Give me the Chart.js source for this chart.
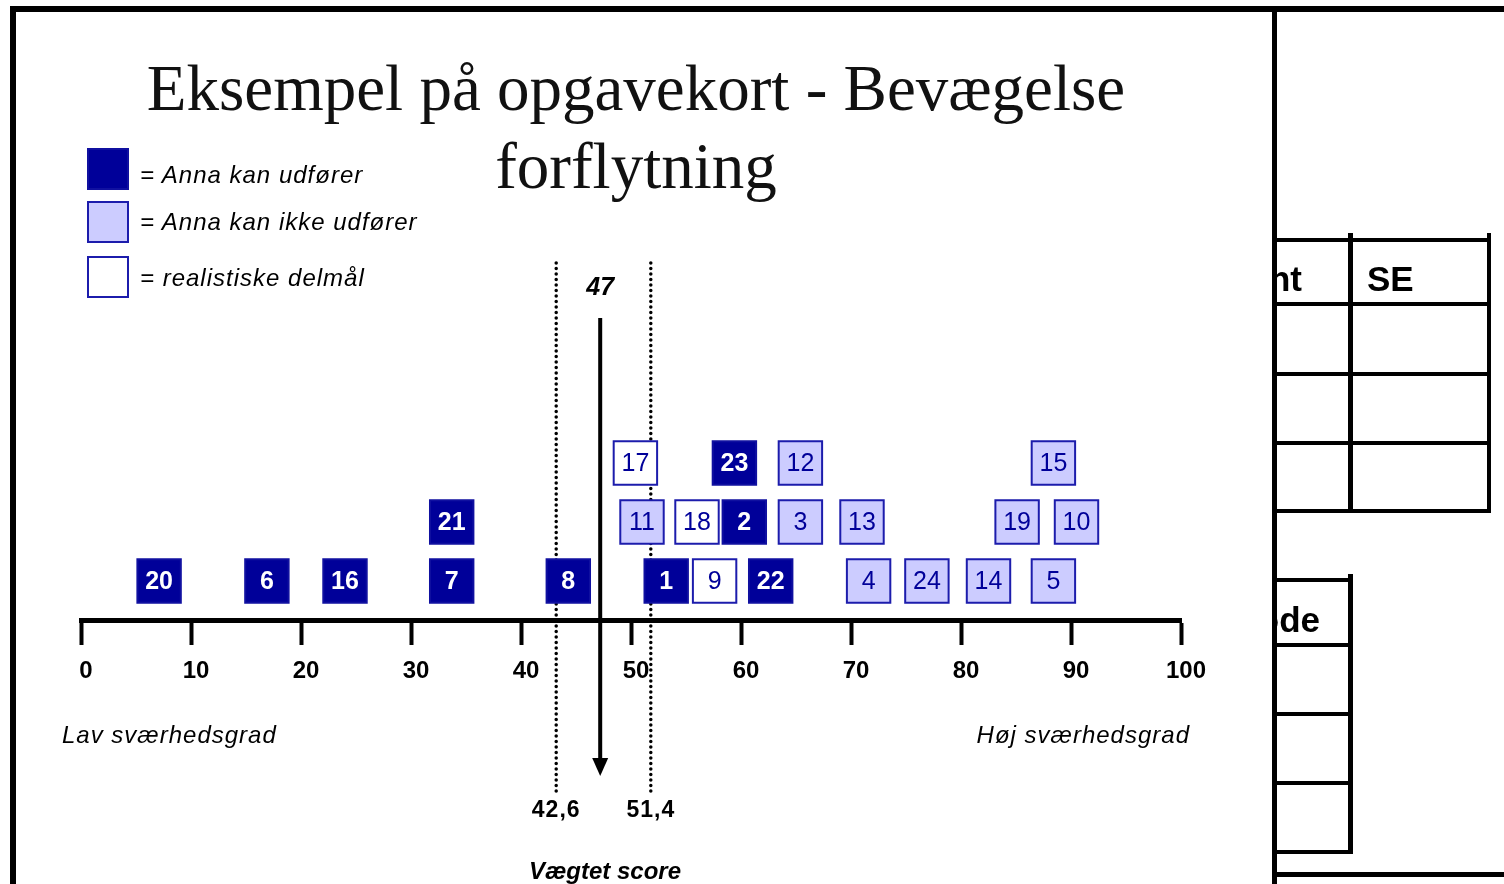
<!DOCTYPE html>
<html>
<head>
<meta charset="utf-8">
<script src="https://cdn.jsdelivr.net/npm/chart.js@4.4.1/dist/chart.umd.min.js"></script>
<style>
  html, body { margin: 0; padding: 0; background: #fff; }
  #page { position: relative; width: 1504px; height: 884px; overflow: hidden; font-family: "Liberation Sans", Arial, sans-serif; }
  #chart { position: absolute; left: 0; top: 0; }
  .txt { position: absolute; white-space: nowrap; color: #000; line-height: 30px; }
  .it { font-style: italic; font-size: 24px; letter-spacing: 1px; }
  .ln { position: absolute; background: #000; }
  .key { position: absolute; left: 87px; width: 42px; height: 42px; box-sizing: border-box; }
  .clip { position: absolute; left: 1277px; width: 71px; height: 50px; overflow: hidden; }
</style>
</head>
<body>
<div id="page">
  <canvas id="chart" width="1504" height="884"></canvas>

  <div class="txt" style="left:136px;top:49px;width:1000px;text-align:center;font:65px 'Liberation Serif', serif;line-height:78px;color:#111;">Eksempel på opgavekort - Bevægelse<br>forflytning</div>

  <div class="key" style="top:148px;background:#000099;border:2px solid #1010a0;"></div>
  <div class="key" style="top:201px;background:#ccccff;border:2px solid #1c1cac;"></div>
  <div class="key" style="top:256px;background:#fff;border:2px solid #1c1cac;"></div>
  <div class="txt it" style="left:140px;top:160px;">= Anna kan udfører</div>
  <div class="txt it" style="left:140px;top:207px;">= Anna kan ikke udfører</div>
  <div class="txt it" style="left:140px;top:263px;">= realistiske delmål</div>

  <div class="txt it" style="left:62px;top:720px;">Lav sværhedsgrad</div>
  <div class="txt it" style="right:314px;top:720px;">Høj sværhedsgrad</div>
  <div class="txt" style="left:455px;width:300px;text-align:center;top:857px;font:italic bold 24px 'Liberation Sans';">Vægtet score</div>

  <div class="txt" style="left:1367px;top:261px;font:bold 35px 'Liberation Sans';line-height:35px;">SE</div>
  <div class="clip" style="top:255px;"><div class="txt" style="right:46px;top:6px;font:bold 35px 'Liberation Sans';line-height:35px;">Point</div></div>
  <div class="clip" style="top:597px;"><div class="txt" style="right:28px;top:5px;font:bold 35px 'Liberation Sans';line-height:35px;">Kode</div></div>
</div>

<script>
// opgaver Anna kan udføre (mørkeblå)
const canIds = [20, 6, 16, 7, 8, 1, 22, 21, 2, 23];
const canX = [7.1, 16.9, 24.0, 33.7, 44.3, 53.2, 62.7, 33.7, 60.3, 59.4];
const canRow = [1, 1, 1, 1, 1, 1, 1, 2, 2, 3];

// opgaver Anna ikke kan udføre (lyseblå)
const cannotIds = [4, 24, 14, 5, 11, 3, 13, 19, 10, 12, 15];
const cannotX = [71.6, 76.9, 82.5, 88.4, 51.0, 65.4, 71.0, 85.1, 90.5, 65.4, 88.4];
const cannotRow = [1, 1, 1, 1, 2, 2, 2, 2, 2, 3, 3];

// realistiske delmål (hvide)
const goalIds = [9, 18, 17];
const goalX = [57.6, 56.0, 50.4];
const goalRow = [1, 2, 3];

const xTicks = [0, 10, 20, 30, 40, 50, 60, 70, 80, 90, 100];

// vægtet score og grænser (placering aflæst på billedet)
const scoreX = 47.2;
const scoreLabel = "47";
const boundsX = [43.2, 51.8];
const boundsLabels = ["42,6", "51,4"];

const page = document.getElementById("page");

function bar(x, y, w, h) {
  const d = document.createElement("div");
  d.className = "ln";
  d.style.cssText = `left:${x}px;top:${y}px;width:${w}px;height:${h}px`;
  page.appendChild(d);
}

// ramme
bar(10, 6, 1494, 6);
bar(10, 6, 6, 878);
bar(1272, 6, 5, 878);
// tabel 1
[238, 302, 372, 441, 509].forEach((y) => bar(1277, y, 214, 4));
bar(1348, 233, 5, 280);
bar(1487, 233, 4, 280);
// tabel 2
[578, 643, 712, 781, 850].forEach((y) => bar(1277, y, 76, 4));
bar(1348, 574, 5, 280);
bar(1277, 872, 227, 5);

function toPoints(xs, rows) {
  return xs.map((x, i) => ({ x: x, y: rows[i] }));
}

const boxStyle = {
  pointStyle: "rect",
  pointRadius: 30.7,
  pointHoverRadius: 30.7,
  borderWidth: 2,
  pointHoverBorderWidth: 2,
  showLine: false,
};

const datasets = [
  Object.assign({
    label: "Anna kan udfører",
    ids: canIds,
    data: toPoints(canX, canRow),
    backgroundColor: "#000099",
    borderColor: "#1010a0",
    textColor: "#ffffff",
    textFont: "bold 25px 'Liberation Sans'",
  }, boxStyle),
  Object.assign({
    label: "Anna kan ikke udfører",
    ids: cannotIds,
    data: toPoints(cannotX, cannotRow),
    backgroundColor: "#ccccff",
    borderColor: "#1c1cac",
    textColor: "#000099",
    textFont: "25px 'Liberation Sans'",
  }, boxStyle),
  Object.assign({
    label: "realistiske delmål",
    ids: goalIds,
    data: toPoints(goalX, goalRow),
    backgroundColor: "#ffffff",
    borderColor: "#1c1cac",
    textColor: "#000099",
    textFont: "25px 'Liberation Sans'",
  }, boxStyle),
];

const marks = {
  id: "marks",
  beforeDatasetsDraw(chart) {
    const ctx = chart.ctx;
    const x = chart.scales.x;
    ctx.save();
    // stiplede grænser
    ctx.strokeStyle = "#000";
    ctx.lineWidth = 3.5;
    ctx.lineCap = "round";
    ctx.setLineDash([0, 5.5]);
    boundsX.forEach((v) => {
      const px = x.getPixelForValue(v);
      ctx.beginPath();
      ctx.moveTo(px, 263);
      ctx.lineTo(px, 793);
      ctx.stroke();
    });
    // pil for vægtet score
    ctx.setLineDash([]);
    ctx.lineCap = "butt";
    ctx.lineWidth = 4;
    const sx = x.getPixelForValue(scoreX);
    ctx.beginPath();
    ctx.moveTo(sx, 318);
    ctx.lineTo(sx, 762);
    ctx.stroke();
    ctx.fillStyle = "#000";
    ctx.beginPath();
    ctx.moveTo(sx - 8, 758);
    ctx.lineTo(sx + 8, 758);
    ctx.lineTo(sx, 776);
    ctx.closePath();
    ctx.fill();
    // tekster
    ctx.textAlign = "center";
    ctx.textBaseline = "middle";
    ctx.font = "italic bold 25px 'Liberation Sans'";
    ctx.fillText(scoreLabel, sx, 288);
    ctx.font = "bold 23px 'Liberation Sans'";
    ctx.letterSpacing = "1px";
    boundsX.forEach((v, i) => ctx.fillText(boundsLabels[i], x.getPixelForValue(v), 811));
    ctx.restore();
  },
  afterDatasetsDraw(chart) {
    const ctx = chart.ctx;
    ctx.save();
    ctx.textAlign = "center";
    ctx.textBaseline = "middle";
    chart.data.datasets.forEach((ds, di) => {
      ctx.font = ds.textFont;
      ctx.fillStyle = ds.textColor;
      chart.getDatasetMeta(di).data.forEach((pt, i) => {
        ctx.fillText(String(ds.ids[i]), pt.x, pt.y + 1);
      });
    });
    ctx.restore();
  },
};

new Chart(document.getElementById("chart"), {
  type: "scatter",
  data: { datasets: datasets },
  options: {
    responsive: false,
    animation: false,
    devicePixelRatio: 1,
    clip: false,
    layout: { padding: { left: 81, right: 323, top: 384, bottom: 204 } },
    plugins: { legend: { display: false }, tooltip: { enabled: false } },
    events: [],
    scales: {
      x: {
        type: "linear",
        min: 0,
        max: 100,
        afterBuildTicks: (s) => { s.ticks = xTicks.map((v) => ({ value: v })); },
        afterFit: (s) => { s.height = 60; },
        ticks: {
          autoSkip: false,
          maxRotation: 0,
          padding: 12,
          labelOffset: 5,
          color: "#000",
          font: { family: "Liberation Sans", size: 24, weight: "bold" },
        },
        grid: { drawOnChartArea: false, drawTicks: true, tickLength: 25, tickWidth: 4, tickColor: "#000" },
        border: { display: true, width: 5, color: "#000" },
      },
      y: { display: false, min: 0.339, max: 4.339 },
    },
  },
  plugins: [marks],
});
</script>
</body>
</html>
